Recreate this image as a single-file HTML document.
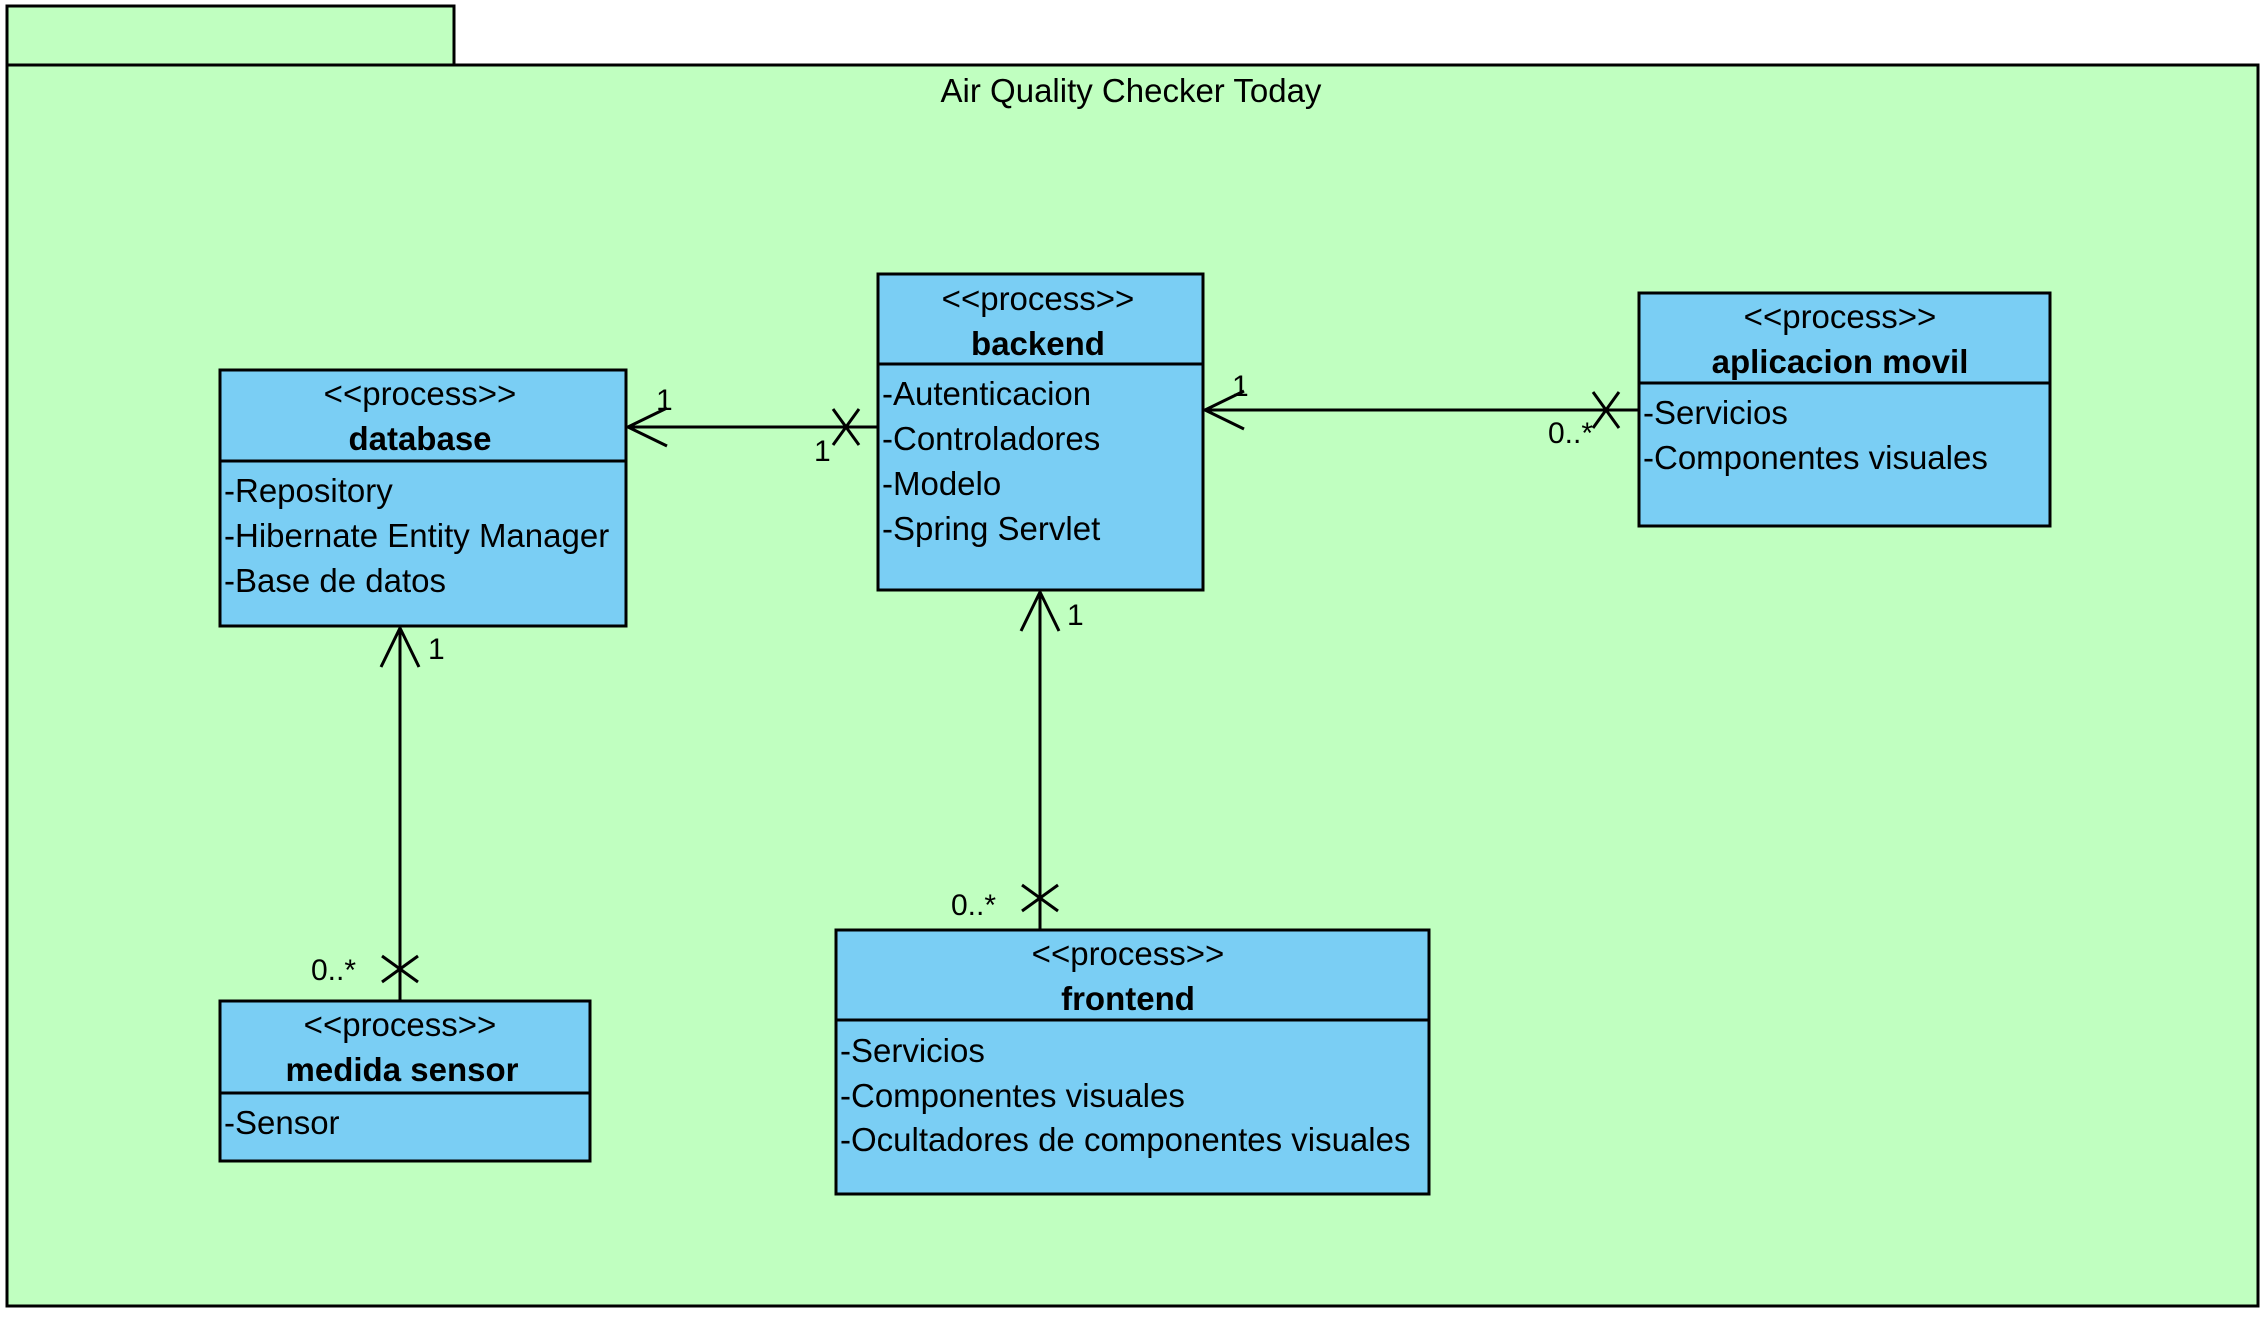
<!DOCTYPE html>
<html><head><meta charset="utf-8"><style>
html,body{margin:0;padding:0;background:#fff;}
svg{display:block;}
text{font-family:"Liberation Sans",Arial,sans-serif;fill:#000;}
</style></head><body>
<svg width="2268" height="1317" viewBox="0 0 2268 1317" xmlns="http://www.w3.org/2000/svg">
<rect x="7" y="6" width="447" height="59" fill="#c0ffc0" stroke="#000" stroke-width="3"/>
<rect x="7" y="65" width="2251" height="1241" fill="#c0ffc0" stroke="#000" stroke-width="3"/>
<text x="1131" y="102" font-size="33" text-anchor="middle">Air Quality Checker Today</text>

<g stroke="#000" stroke-width="3" fill="#7acef4">
<rect x="220" y="370" width="406" height="256"/>
<line x1="220" y1="461" x2="626" y2="461"/>
<rect x="878" y="274" width="325" height="316"/>
<line x1="878" y1="364" x2="1203" y2="364"/>
<rect x="1639" y="293" width="411" height="233"/>
<line x1="1639" y1="383" x2="2050" y2="383"/>
<rect x="220" y="1001" width="370" height="160"/>
<line x1="220" y1="1093" x2="590" y2="1093"/>
<rect x="836" y="930" width="593" height="264"/>
<line x1="836" y1="1020" x2="1429" y2="1020"/>
</g>

<g font-size="33">
<text x="420" y="405" text-anchor="middle">&lt;&lt;process&gt;&gt;</text>
<text x="420" y="450" text-anchor="middle" font-weight="bold">database</text>
<text x="224" y="502">-Repository</text>
<text x="224" y="547">-Hibernate Entity Manager</text>
<text x="224" y="592">-Base de datos</text>

<text x="1038" y="310" text-anchor="middle">&lt;&lt;process&gt;&gt;</text>
<text x="1038" y="355" text-anchor="middle" font-weight="bold">backend</text>
<text x="882" y="405">-Autenticacion</text>
<text x="882" y="450">-Controladores</text>
<text x="882" y="495">-Modelo</text>
<text x="882" y="540">-Spring Servlet</text>

<text x="1840" y="328" text-anchor="middle">&lt;&lt;process&gt;&gt;</text>
<text x="1840" y="373" text-anchor="middle" font-weight="bold">aplicacion movil</text>
<text x="1643" y="424">-Servicios</text>
<text x="1643" y="469">-Componentes visuales</text>

<text x="400" y="1036" text-anchor="middle">&lt;&lt;process&gt;&gt;</text>
<text x="402" y="1081" text-anchor="middle" font-weight="bold">medida sensor</text>
<text x="224" y="1134">-Sensor</text>

<text x="1128" y="965" text-anchor="middle">&lt;&lt;process&gt;&gt;</text>
<text x="1128" y="1010" text-anchor="middle" font-weight="bold">frontend</text>
<text x="840" y="1062">-Servicios</text>
<text x="840" y="1107">-Componentes visuales</text>
<text x="840" y="1151">-Ocultadores de componentes visuales</text>
</g>

<g stroke="#000" stroke-width="3" fill="none">
<line x1="628" y1="427" x2="878" y2="427"/>
<polyline points="667,408 628,427 667,446"/>
<line x1="833" y1="409" x2="859" y2="445"/>
<line x1="859" y1="409" x2="833" y2="445"/>
<line x1="1205" y1="410" x2="1639" y2="410"/>
<polyline points="1244,391 1205,410 1244,429"/>
<line x1="1593" y1="392" x2="1619" y2="428"/>
<line x1="1619" y1="392" x2="1593" y2="428"/>
<line x1="400" y1="628" x2="400" y2="1001"/>
<polyline points="381,667 400,628 419,667"/>
<line x1="382" y1="956" x2="418" y2="982"/>
<line x1="418" y1="956" x2="382" y2="982"/>
<line x1="1040" y1="592" x2="1040" y2="930"/>
<polyline points="1021,631 1040,592 1059,631"/>
<line x1="1022" y1="885" x2="1058" y2="911"/>
<line x1="1058" y1="885" x2="1022" y2="911"/>
</g>

<g font-size="30">
<text x="656" y="410">1</text>
<text x="814" y="461">1</text>
<text x="1232" y="396">1</text>
<text x="1548" y="443">0..*</text>
<text x="428" y="659">1</text>
<text x="311" y="980">0..*</text>
<text x="1067" y="625">1</text>
<text x="951" y="915">0..*</text>
</g>
</svg>
</body></html>
